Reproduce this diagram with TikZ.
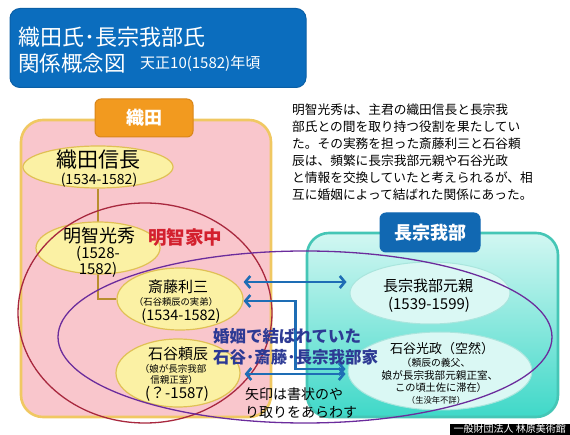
\documentclass[tikz,border=0pt]{standalone}
\usepackage{fontspec}
\setmainfont{Noto Sans CJK JP}
\usepackage{tikz}
\usetikzlibrary{calc,shapes,arrows.meta,positioning,backgrounds}

\definecolor{titleblue}{HTML}{0B6DBE}
\definecolor{titleedge}{HTML}{0A5FA6}
\definecolor{odaorange}{HTML}{F29A1F}
\definecolor{odaedge}{HTML}{D9861A}
\definecolor{odapink}{HTML}{F9C6CC}
\definecolor{odagold}{HTML}{F0C862}
\definecolor{persyellow}{HTML}{FBF1A4}
\definecolor{persedge}{HTML}{E0C055}
\definecolor{famgold}{HTML}{B98E2E}
\definecolor{chotop}{HTML}{D2F7F2}
\definecolor{chobottom}{HTML}{3FD8C8}
\definecolor{choedge}{HTML}{45C6B6}
\definecolor{choell}{HTML}{DAF8F4}
\definecolor{choelledge}{HTML}{A9E5DD}
\definecolor{choblue}{HTML}{1168B2}
\definecolor{akechired}{HTML}{A8283E}
\definecolor{akechitext}{HTML}{D3202E}
\definecolor{marrypurple}{HTML}{6B2C9C}
\definecolor{marrytext}{HTML}{2D3A94}
\definecolor{letterblue}{HTML}{1E6DB5}

\newcommand{\fsz}[1]{\fontsize{#1}{#1}\selectfont}

\begin{document}
\begin{tikzpicture}[x=1pt,y=-1pt,
	region/.style={rounded corners=22pt, line width=2.6pt},
	tagbox/.style={rounded corners=6pt, line width=1pt, text=white, font=\fsz{18}\bfseries},
	pers/.style={ellipse, draw=persedge, fill=persyellow, line width=1.2pt, inner sep=0pt},
	cpers/.style={ellipse, draw=choelledge, fill=choell, line width=1pt, inner sep=0pt},
	txt/.style={inner sep=0pt},
	ring/.style={ellipse, draw, line width=1.3pt, inner sep=0pt},
	letter/.style={draw=letterblue, line width=2.4pt, <->, >={Straight Barb[length=5pt,width=12pt,line width=2.6pt]}}]
	\useasboundingbox (0,0) rectangle (570,435);

	\node (title) [draw=titleedge, fill=titleblue, rounded corners=10pt, line width=1pt, minimum width=296pt, minimum height=79pt] at (158,48) {};
	\node (titleA) [txt, anchor=west, text=white, font=\fsz{22}] at (18,37) {織田氏･長宗我部氏};
	\node (titleB) [txt, anchor=west, text=white, font=\fsz{21.5}] at (18,63) {関係概念図};
	\node (titleC) [txt, anchor=west, text=white, font=\fsz{15}] at (140,64) {天正10(1582)年頃};

	\node (note) [txt, anchor=north west, align=left, font=\fontsize{12.7}{17}\selectfont] at (292,103.5) {明智光秀は、主君の織田信長と長宗我\\部氏との間を取り持つ役割を果たしてい\\た。その実務を担った斎藤利三と石谷頼\\辰は、頻繁に長宗我部元親や石谷光政\\と情報を交換していたと考えられるが、相\\互に婚姻によって結ばれた関係にあった。};

	\begin{scope}[on background layer]
		\node (oda) [region, draw=odagold, fill=odapink, minimum width=250pt, minimum height=297pt] at (146,268.5) {};
		\node (chosokabe) [region, draw=choedge, top color=chotop, bottom color=chobottom, minimum width=251pt, minimum height=184pt] at (432.5,325) {};
	\end{scope}
	\node (odatag) [tagbox, draw=odaedge, fill=odaorange, minimum width=98pt, minimum height=38pt] at (144,118) {織田};
	\node (chotag) [tagbox, draw=choblue, fill=choblue, minimum width=100pt, minimum height=39pt] at (430,232.5) {長宗我部};

	\node (nobunaga) [pers, minimum width=150pt, minimum height=42pt] at (98,167) {};
	\node [txt, font=\fsz{21}] at ($(nobunaga)+(0,-7)$) {織田信長};
	\node [txt, font=\fsz{14}] at ($(nobunaga)+(1,13)$) {(1534-1582)};

	\node (mitsuhide) [pers, minimum width=124pt, minimum height=52pt] at (98,248) {};
	\node [txt, font=\fsz{18}] at ($(mitsuhide)+(1,-12)$) {明智光秀};
	\node [txt, font=\fsz{15}] at ($(mitsuhide)+(0,6)$) {(1528-};
	\node [txt, font=\fsz{15}] at ($(mitsuhide)+(0,22)$) {1582)};
	\node (akechi) [txt, font=\fsz{18.5}\bfseries, text=akechitext] at (185,237) {明智家中};

	\node (saito) [pers, minimum width=126pt, minimum height=62pt] at (180,299) {};
	\node [txt, font=\fsz{15}] at ($(saito)+(-2,-12)$) {斎藤利三};
	\node [txt, font=\fsz{9.3}] at ($(saito)+(-4,3)$) {（石谷頼辰の実弟）};
	\node [txt, font=\fsz{14.5}] at ($(saito)+(1,17)$) {(1534-1582)};

	\node (yoritoki) [pers, minimum width=124pt, minimum height=68pt] at (178,373) {};
	\node [txt, font=\fsz{15}] at ($(yoritoki)+(0,-19)$) {石谷頼辰};
	\node [txt, font=\fsz{9.5}] at ($(yoritoki)+(-5,-4)$) {（娘が長宗我部};
	\node [txt, font=\fsz{9.5}] at ($(yoritoki)+(-4,7)$) {信親正室）};
	\node [txt, font=\fsz{15}] at ($(yoritoki)+(-1,21)$) {(？-1587)};

	\node (motochika) [cpers, minimum width=160pt, minimum height=62pt] at (430,293) {};
	\node [txt, font=\fsz{15}] at ($(motochika)+(-2,-7)$) {長宗我部元親};
	\node [txt, font=\fsz{15}] at ($(motochika)+(-1,12)$) {(1539-1599)};

	\node (mitsumasa) [cpers, minimum width=184pt, minimum height=78pt] at (440,371) {};
	\node [txt, font=\fsz{13}] at ($(mitsumasa)+(2,-22)$) {石谷光政（空然）};
	\node [txt, font=\fsz{9.8}] at ($(mitsumasa)+(-4,-8)$) {（頼辰の義父、};
	\node [txt, font=\fsz{10.6}] at ($(mitsumasa)+(0,4)$) {娘が長宗我部元親正室、};
	\node [txt, font=\fsz{10.2}] at ($(mitsumasa)+(1,17)$) {この頃土佐に滞在）};
	\node [txt, font=\fsz{8.3}] at ($(mitsumasa)+(-4,29)$) {（生没年不詳）};

	\begin{scope}[on background layer]
		\draw [famgold, line width=2.4pt] (nobunaga.south) -- (nobunaga.south |- saito.west) -- (saito.west);
	\end{scope}

	\node (akechiring) [ring, draw=akechired, minimum width=254pt, minimum height=220pt] at (145,313) {};
	\node (marryring) [ring, draw=marrypurple, minimum width=494pt, minimum height=172pt] at (305,337) {};

	\draw [letter] ($(saito.east)+(0,-17)$) -- ($(motochika.west)+(-3,-11)$);
	\draw [letter] ($(saito.east)+(0,2)$) -- ++(52,0) |- ($(mitsumasa.west)+(-2,-2)$);
	\draw [letter] ($(yoritoki.east)+(4,1)$) -- ($(mitsumasa.west)+(-2,3)$);

	\node (marryA) [txt, anchor=west, text=marrytext, font=\fsz{16.5}\bfseries] at (213,336) {婚姻で結ばれていた};
	\node (marryB) [txt, anchor=west, text=marrytext, font=\fsz{16.5}\bfseries] at (213,357) {石谷･斎藤･長宗我部家};
	\node (arrownoteA) [txt, anchor=west, font=\fsz{14}] at (245,394) {矢印は書状のや};
	\node (arrownoteB) [txt, anchor=west, font=\fsz{14}] at (245,412) {り取りをあらわす};

	\node (credit) [fill=black, text=white, font=\fsz{10}, inner xsep=4pt, inner ysep=1pt, anchor=south east] at (570,435) {一般財団法人 林原美術館};
\end{tikzpicture}
\end{document}
